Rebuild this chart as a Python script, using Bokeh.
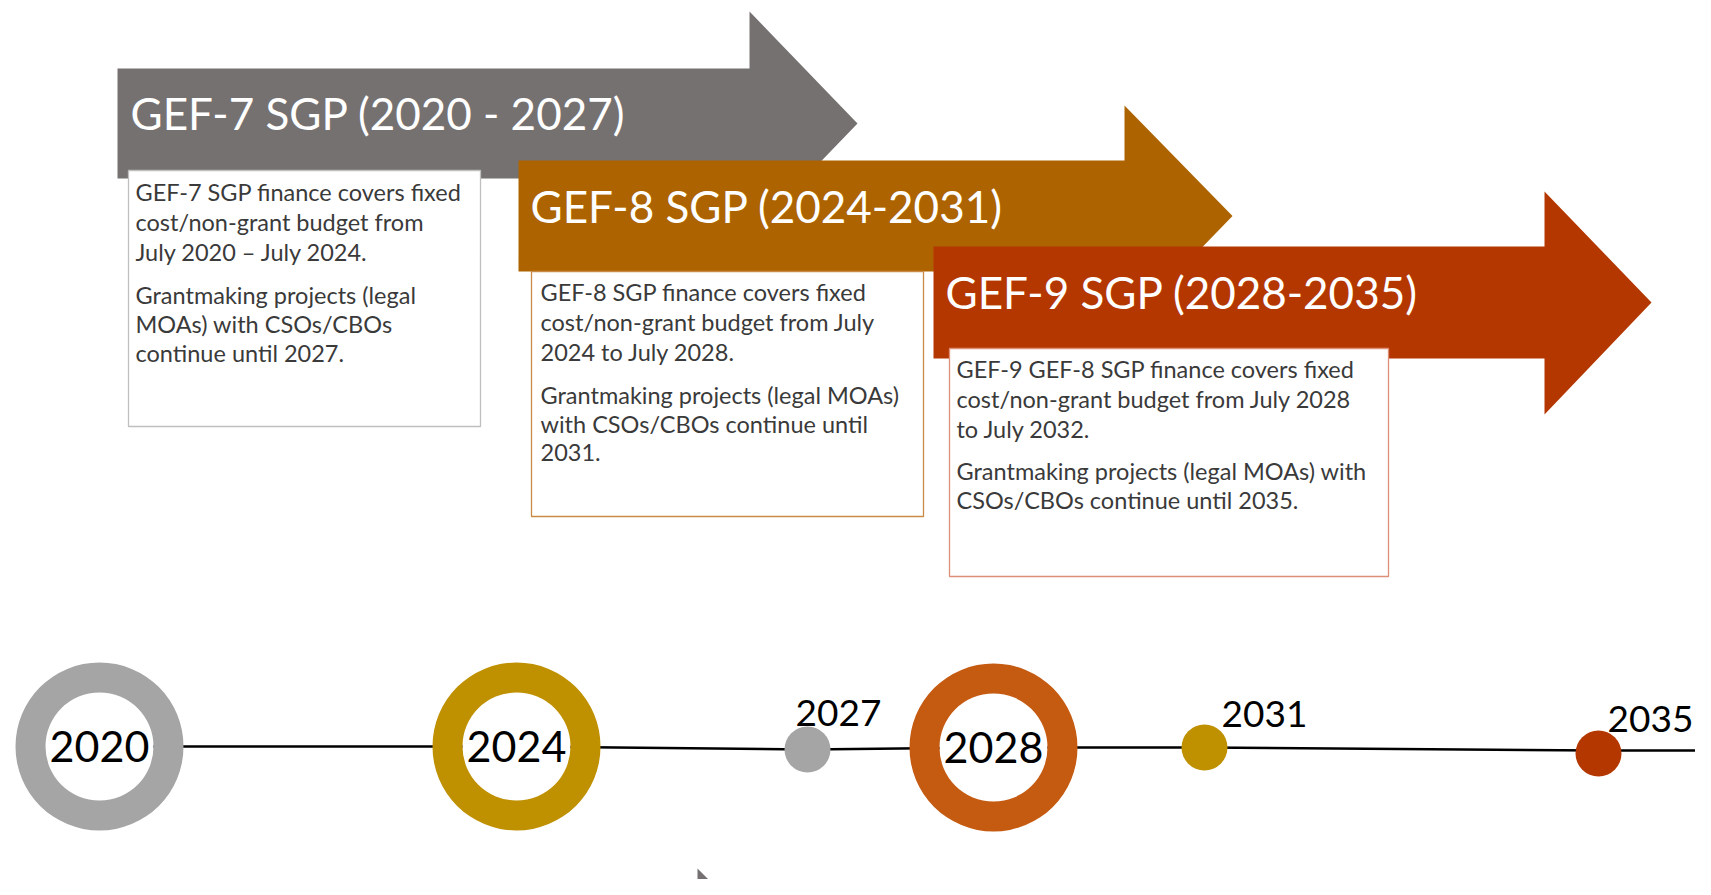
from bokeh.plotting import figure
from bokeh.models import Range1d, ColumnDataSource
from bokeh.core.properties import value
from bokeh.embed import file_html
from bokeh.resources import INLINE

# ---------------- data ----------------
period_titles = ["GEF-7 SGP  (2020 - 2027)", "GEF-8 SGP (2024-2031)", "GEF-9 SGP (2028-2035)"]
period_colors = ["#767171", "#AD6400", "#B53700"]
box_border_colors = ["#BFBFBF", "#C98A45", "#DE8F78"]
box_lines = [
    ["GEF-7 SGP finance covers fixed", "cost/non-grant budget from", "July 2020 \u2013 July 2024.",
     "Grantmaking projects (legal", "MOAs) with CSOs/CBOs", "continue until 2027."],
    ["GEF-8 SGP finance covers fixed", "cost/non-grant budget from July", "2024 to July 2028.",
     "Grantmaking projects (legal MOAs)", "with CSOs/CBOs continue until", "2031."],
    ["GEF-9 GEF-8 SGP finance covers fixed", "cost/non-grant budget from July 2028", "to July 2032.",
     "Grantmaking projects (legal MOAs) with", "CSOs/CBOs continue until 2035."],
]
milestone_years = ["2020", "2024", "2027", "2028", "2031", "2035"]
milestone_kind = ["ring", "ring", "dot", "ring", "dot", "dot"]
milestone_colors = ["#A5A5A5", "#BF9000", "#A5A5A5", "#C55A11", "#BF9000", "#B53700"]

# ---------------- layout (pixel positions) ----------------
arrow_geo = [  # x0, head base, tip, body top, body bottom, head top, head bottom
    (117, 749, 857, 68, 178, 11, 235),
    (518, 1124, 1232, 160, 271, 105, 327),
    (933, 1544, 1651, 246, 358, 191, 414),
]
title_pos = [(130, 112), (530, 205), (945, 291)]
box_geo = [(128, 480, 170, 426), (531, 923, 271, 516), (949, 1388, 348, 576)]
box_text_x = [135, 540, 956]
box_text_y = [[191, 221, 251, 294, 323, 352],
              [291, 321, 351, 394, 423, 452],
              [368, 398, 428, 470, 499]]
ms_x = [99, 516, 807, 993, 1204, 1598]
ms_y = [746, 746, 749, 747, 747, 753]
label_pos = {"2027": (795, 712), "2031": (1221, 713), "2035": (1607, 718)}

W, H = 1695, 879
p = figure(width=W, height=H, x_range=Range1d(0, W), y_range=Range1d(H, 0),
           x_axis_type=None, y_axis_type=None, output_backend="svg",
           toolbar_location=None, min_border=0)
p.outline_line_color = None
p.background_fill_color = "white"
p.border_fill_color = "white"

FONT = value("Lato")

for i in range(3):
    x0, xb, xt, t, b, ht, hb = arrow_geo[i]
    mid = (t + b) / 2
    p.patch([x0, xb, xb, xt, xb, xb, x0], [t, t, ht, mid, hb, b, b],
            fill_color=period_colors[i], line_color=None)
    p.text(x=[title_pos[i][0]], y=[title_pos[i][1]], text=[period_titles[i]],
           text_color="white", text_font=FONT, text_font_size="44px",
           text_baseline="middle", text_align="left")
    bx0, bx1, by0, by1 = box_geo[i]
    p.quad(left=[bx0], right=[bx1], top=[by0], bottom=[by1], fill_color="white",
           line_color=box_border_colors[i], line_width=1.3)
    src = ColumnDataSource(dict(x=[box_text_x[i]] * len(box_lines[i]), y=box_text_y[i], t=box_lines[i]))
    p.text(x="x", y="y", text="t", source=src, text_color="#3A3A3A", text_font=FONT,
           text_font_size="23.5px", text_baseline="middle", text_align="left")

# partial arrow head at the bottom
p.patch([697, 760, 697], [868, 931, 994], fill_color="#767171", line_color=None)

# timeline
p.line(ms_x + [1711], [746, 746, 749, 747, 747, 750, 750], line_color="black", line_width=2.6)

RO, RI, RD = 84, 54, 23
for x, y, kind, c, yr in zip(ms_x, ms_y, milestone_kind, milestone_colors, milestone_years):
    if kind == "ring":
        p.circle(x=[x], y=[y], radius=RI, fill_color="white", line_color=None)
        p.annulus(x=[x], y=[y], inner_radius=RI, outer_radius=RO, fill_color=c, line_color=None)
        p.text(x=[x], y=[y], text=[yr], text_color="black", text_font=FONT, text_font_size="43px",
               text_baseline="middle", text_align="center")
    else:
        p.circle(x=[x], y=[y], radius=RD, fill_color=c, line_color=None)
        lx, ly = label_pos[yr]
        p.text(x=[lx], y=[ly], text=[yr], text_color="black", text_font=FONT, text_font_size="37px",
               text_baseline="middle", text_align="left")

open("out.html", "w").write(file_html(p, INLINE))
